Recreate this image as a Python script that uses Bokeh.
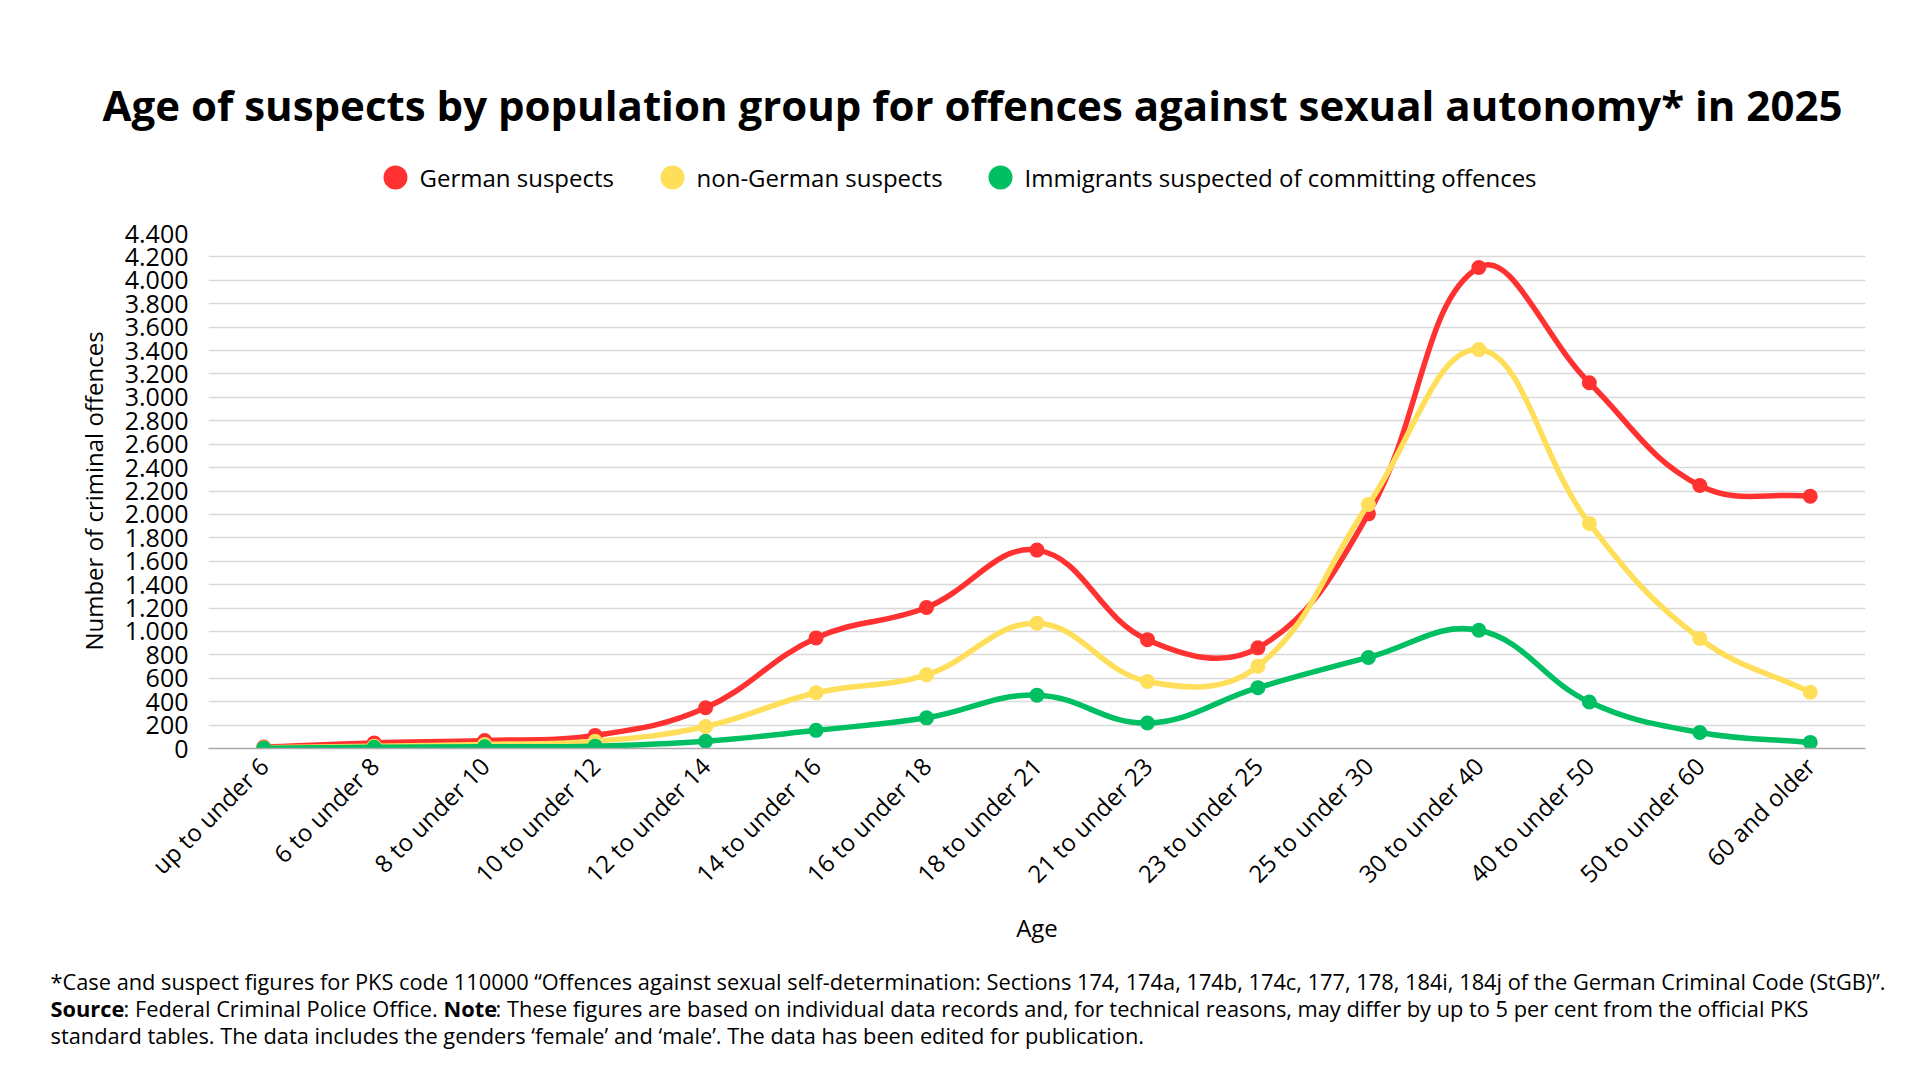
import math
from bokeh.plotting import figure
from bokeh.models import Range1d, FixedTicker, CustomJSTickFormatter, ColumnDataSource
from bokeh.core.properties import value
from bokeh.embed import file_html
from bokeh.resources import INLINE

# ---------------- data ----------------
title_text = "Age of suspects by population group for offences against sexual autonomy* in 2025"
categories = ["up to under 6", "6 to under 8", "8 to under 10", "10 to under 12", "12 to under 14",
              "14 to under 16", "16 to under 18", "18 to under 21", "21 to under 23", "23 to under 25",
              "25 to under 30", "30 to under 40", "40 to under 50", "50 to under 60", "60 and older"]
series_names = ["German suspects", "non-German suspects", "Immigrants suspected of committing offences"]
german = [12, 48, 68, 112, 348, 945, 1205, 1695, 930, 860, 2005, 4110, 3125, 2247, 2155]
non_german = [6, 20, 35, 62, 188, 476, 630, 1070, 573, 703, 2085, 3408, 1923, 940, 480]
immigrants = [3, 10, 14, 20, 62, 155, 262, 456, 218, 520, 778, 1010, 397, 137, 52]
colors = ["#FF3131", "#FFDE59", "#00BF63"]
y_ticks = list(range(0, 4401, 200))
x_axis_title = "Age"
y_axis_title = "Number of criminal offences"
foot_line1 = ("*Case and suspect figures for PKS code 110000 \u201cOffences against sexual self-determination: "
              "Sections 174, 174a, 174b, 174c, 177, 178, 184i, 184j of the German Criminal Code (StGB)\u201d.")
foot_line2 = [("Source", True), (": Federal Criminal Police Office. ", False), ("Note", True),
              (": These figures are based on individual data records and, for technical reasons, may differ by up to 5 per cent from the official PKS", False)]
foot_line3 = "standard tables. The data includes the genders \u2018female\u2019 and \u2018male\u2019. The data has been edited for publication."

FONT = "Open Sans"
W = 1920
FRAME_L, FRAME_R = 208, 1865
HDR_B, MAIN_B, FT_B = 210, 950, 1075
FRAME_T, FRAME_B = 233, 748
FOOT_SIZE = "21.8px"


def text_panel(top, bottom):
    # a plain figure whose frame fills the whole canvas; data units == page pixels
    return figure(width=W, height=bottom - top, x_range=Range1d(0, W), y_range=Range1d(bottom, top),
                  x_axis_type=None, y_axis_type=None, min_border=0, outline_line_color=None,
                  toolbar_location=None, output_backend="svg")


# ---------------- header ----------------
hdr = text_panel(0, HDR_B)
hdr.text(x=[972], y=[104], text=[title_text], text_font=value(FONT), text_font_style="bold",
         text_font_size="42px", text_align="center", text_baseline="middle", text_color="#000000")
leg_dot_x = [395, 672, 1000]
leg_src = ColumnDataSource(dict(x=leg_dot_x, tx=[x + 24 for x in leg_dot_x], y=[177] * 3,
                                name=series_names, color=colors))
hdr.scatter(x="x", y="y", size=24, fill_color="color", line_color=None, source=leg_src)
hdr.text(x="tx", y="y", text="name", text_font=value(FONT), text_font_size="24px",
         text_baseline="middle", text_align="left", text_color="#000000", source=leg_src)

# ---------------- main chart ----------------
p = figure(width=W, height=MAIN_B - HDR_B, x_range=categories, y_range=Range1d(0, 4400),
           min_border_left=FRAME_L, min_border_right=W - FRAME_R,
           min_border_top=FRAME_T - HDR_B, min_border_bottom=MAIN_B - FRAME_B,
           outline_line_color=None, toolbar_location=None, output_backend="svg")
p.xgrid.grid_line_color = None
p.ygrid.grid_line_color = "#d9d9d9"
p.ygrid.grid_line_width = 1.5
p.ygrid.ticker = FixedTicker(ticks=y_ticks)
p.yaxis.ticker = FixedTicker(ticks=y_ticks)
p.yaxis.formatter = CustomJSTickFormatter(code="return Math.round(tick).toString().replace(/\\B(?=(\\d{3})+(?!\\d))/g, '.');")
p.yaxis.axis_line_color = None
p.yaxis.major_tick_line_color = None
p.yaxis.minor_tick_line_color = None
p.yaxis.major_label_standoff = 14
p.yaxis.major_label_text_font = FONT
p.yaxis.major_label_text_font_size = "25px"
p.yaxis.major_label_text_color = "#000000"
p.yaxis.axis_label = y_axis_title
p.yaxis.axis_label_text_font = FONT
p.yaxis.axis_label_text_font_size = "24px"
p.yaxis.axis_label_text_font_style = "normal"
p.yaxis.axis_label_text_color = "#000000"
p.yaxis.axis_label_standoff = 12

p.xaxis.axis_line_color = "#aaaaaa"
p.xaxis.axis_line_width = 1.5
p.xaxis.major_tick_line_color = None
p.xaxis.minor_tick_line_color = None
p.xaxis.major_label_orientation = math.pi / 4
p.xaxis.major_label_standoff = 7
p.xaxis.major_label_text_font = FONT
p.xaxis.major_label_text_font_size = "24px"
p.xaxis.major_label_text_color = "#000000"
p.xaxis.axis_label = x_axis_title
p.xaxis.axis_label_text_font = FONT
p.xaxis.axis_label_text_font_size = "24px"
p.xaxis.axis_label_text_font_style = "normal"
p.xaxis.axis_label_text_color = "#000000"
p.xaxis.axis_label_standoff = 7

# smooth curve (cardinal spline, tension 0.4) computed in approximate pixel space
XPX = (FRAME_R - FRAME_L) / len(categories)
YPX = (FRAME_B - FRAME_T) / 4400
T = 0.4


def spline_segments(vals):
    n = len(vals)
    xs = [i + 0.5 for i in range(n)]
    prev_c, next_c = [], []
    for i in range(n):
        a = i - 1 if i > 0 else i
        b = i + 1 if i < n - 1 else i
        d01 = math.hypot((xs[i] - xs[a]) * XPX, (vals[i] - vals[a]) * YPX)
        d12 = math.hypot((xs[b] - xs[i]) * XPX, (vals[b] - vals[i]) * YPX)
        s = d01 + d12
        fa = T * (d01 / s if s else 0)
        fb = T * (d12 / s if s else 0)
        dx = xs[b] - xs[a]
        dy = vals[b] - vals[a]
        prev_c.append((xs[i] - fa * dx, vals[i] - fa * dy))
        next_c.append((xs[i] + fb * dx, vals[i] + fb * dy))
    return dict(x0=xs[:-1], y0=vals[:-1], x1=xs[1:], y1=vals[1:],
                cx0=[c[0] for c in next_c[:-1]], cy0=[c[1] for c in next_c[:-1]],
                cx1=[c[0] for c in prev_c[1:]], cy1=[c[1] for c in prev_c[1:]])


for vals, col in zip([german, non_german, immigrants], colors):
    seg = ColumnDataSource(spline_segments(vals))
    p.bezier(x0="x0", y0="y0", x1="x1", y1="y1", cx0="cx0", cy0="cy0", cx1="cx1", cy1="cy1",
             line_color=col, line_width=5.5, line_cap="round", source=seg)
    p.scatter(x=categories, y=vals, size=15, fill_color=col, line_color=None)

# ---------------- footer ----------------
ft = text_panel(MAIN_B, FT_B)
fx = 50
ft.text(x=[fx], y=[981], text=[foot_line1], text_font=value(FONT), text_font_size=FOOT_SIZE,
        text_baseline="alphabetic", text_color="#000000")
seg_x = [fx, fx + 73, fx + 393, fx + 445]
for (txt, bold), sx in zip(foot_line2, seg_x):
    ft.text(x=[sx], y=[1008], text=[txt], text_font=value(FONT), text_font_size=FOOT_SIZE,
            text_font_style="bold" if bold else "normal",
            text_baseline="alphabetic", text_color="#000000")
ft.text(x=[fx], y=[1035], text=[foot_line3], text_font=value(FONT), text_font_size=FOOT_SIZE,
        text_baseline="alphabetic", text_color="#000000")

open("out.html", "w").write(file_html([hdr, p, ft], INLINE))
